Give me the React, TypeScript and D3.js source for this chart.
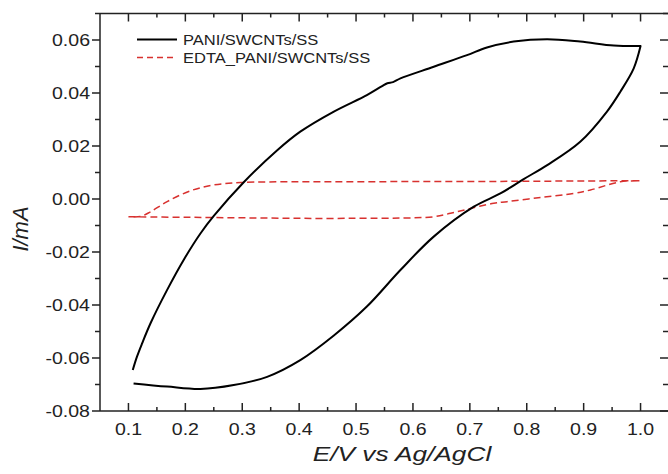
import React from "react";
import * as d3 from "d3";

// PANI/SWCNTs/SS cyclic voltammogram: forward (anodic) and return (cathodic) sweeps
const paniForwardE = [0.1076, 0.115, 0.124, 0.139, 0.168, 0.197, 0.2265, 0.25, 0.3026, 0.361, 0.402, 0.461, 0.519, 0.545, 0.555, 0.565, 0.578, 0.6365, 0.695, 0.73, 0.777, 0.836, 0.894, 0.953, 1.0];
const paniForwardI = [-0.0645, -0.0595, -0.0545, -0.0468, -0.0343, -0.023, -0.013, -0.0064, 0.0063, 0.0183, 0.0254, 0.033, 0.0392, 0.0425, 0.0437, 0.0441, 0.0455, 0.0499, 0.0543, 0.0572, 0.0594, 0.0603, 0.0594, 0.0579, 0.0577];
const paniReverseE = [1.0, 0.988, 0.9645, 0.941, 0.894, 0.836, 0.7946, 0.7537, 0.707, 0.6365, 0.578, 0.519, 0.461, 0.402, 0.3437, 0.285, 0.2265, 0.168, 0.109];
const paniReverseI = [0.0577, 0.0493, 0.0405, 0.033, 0.0216, 0.0128, 0.0075, 0.0021, -0.0029, -0.0142, -0.0268, -0.0406, -0.0515, -0.0608, -0.0671, -0.0702, -0.0717, -0.0708, -0.0696];

// EDTA_PANI/SWCNTs/SS cyclic voltammogram
const edtaLowerE = [0.1, 0.2, 0.3, 0.402, 0.5, 0.578, 0.6365, 0.666, 0.695, 0.742, 0.7655, 0.824, 0.8825, 0.912, 0.9645, 1.0];
const edtaLowerI = [-0.0067, -0.0069, -0.0071, -0.0073, -0.0073, -0.0072, -0.0067, -0.0054, -0.0039, -0.0016, -0.001, 0.0006, 0.0021, 0.0034, 0.0065, 0.0069];
const edtaUpperE = [1.0, 0.9, 0.8, 0.7, 0.6, 0.5, 0.4, 0.297, 0.25, 0.209, 0.168, 0.139, 0.121, 0.1];
const edtaUpperI = [0.0069, 0.0068, 0.0067, 0.0066, 0.0066, 0.0065, 0.0065, 0.0062, 0.0053, 0.0031, -0.001, -0.0048, -0.0066, -0.0067];

const xMajorTicks = [0.1, 0.2, 0.3, 0.4, 0.5, 0.6, 0.7, 0.8, 0.9, 1.0];
const xMinorTicks = [0.15, 0.25, 0.35, 0.45, 0.55, 0.65, 0.75, 0.85, 0.95];
const yMajorTicks = [-0.08, -0.06, -0.04, -0.02, 0.0, 0.02, 0.04, 0.06];
const yMinorTicks = [-0.07, -0.05, -0.03, -0.01, 0.01, 0.03, 0.05, 0.07];

const seriesNames = ["PANI/SWCNTs/SS", "EDTA_PANI/SWCNTs/SS"];
const xTitle = "E/V vs Ag/AgCl";
const yTitle = "I/mA";

const W = 668;
const H = 474;
const left = 100;
const right = 669;
const top = 13.5;
const bottom = 411;
const font = "'Liberation Sans', Arial, Helvetica, sans-serif";
const axisColor = "#222";
const red = "#d8312f";

const zip = (xs: number[], ys: number[]) => xs.map((x, i) => [x, ys[i]] as [number, number]);

export default function App() {
  const x = d3.scaleLinear().domain([0.05, 1.05]).range([left, right]);
  const y = d3.scaleLinear().domain([-0.08, 0.07]).range([bottom, top]);
  const line = d3
    .line<[number, number]>()
    .x((d) => x(d[0]))
    .y((d) => y(d[1]))
    .curve(d3.curveCatmullRom.alpha(0.5));

  const paniPath = line(zip(paniForwardE, paniForwardI))! + line(zip(paniReverseE, paniReverseI))!.replace(/^M/, "L");
  const edtaPath = line(zip(edtaLowerE, edtaLowerI))! + line(zip(edtaUpperE, edtaUpperI))!.replace(/^M/, "L");

  const stretched = (tx: number, ty: number, sx: number) => `translate(${tx},${ty}) scale(${sx},1)`;

  return (
    <svg width={W} height={H} style={{ position: "absolute", left: 0, top: 0, background: "#fff" }} fontFamily={font}>
      <rect x={0} y={0} width={W} height={H} fill="#fff" />

      {/* data */}
      <path d={edtaPath} fill="none" stroke={red} strokeWidth={1.5} strokeDasharray="7,4" />
      <path d={paniPath} fill="none" stroke="#000" strokeWidth={2} strokeLinejoin="round" />

      {/* frame (right edge sits just past the page border) */}
      <line x1={left} x2={right + 1} y1={top} y2={top} stroke={axisColor} strokeWidth={1.5} />
      <line x1={left} x2={right + 1} y1={bottom} y2={bottom} stroke={axisColor} strokeWidth={1.5} />
      <line x1={left} x2={left} y1={top} y2={bottom} stroke={axisColor} strokeWidth={1.5} />
      <line x1={right + 1} x2={right + 1} y1={top} y2={bottom} stroke={axisColor} strokeWidth={1.5} />

      {/* x ticks: bottom and top, pointing inward */}
      {xMajorTicks.map((t) => (
        <g key={"xM" + t}>
          <line x1={x(t)} x2={x(t)} y1={bottom} y2={bottom - 8} stroke={axisColor} strokeWidth={1.5} />
          <line x1={x(t)} x2={x(t)} y1={top} y2={top + 8} stroke={axisColor} strokeWidth={1.5} />
          <text
            transform={stretched(x(t), 435, 1.15)}
            textAnchor="middle"
            fontSize={17}
            fill={axisColor}
          >
            {d3.format(".1f")(t)}
          </text>
        </g>
      ))}
      {xMinorTicks.map((t) => (
        <g key={"xm" + t}>
          <line x1={x(t)} x2={x(t)} y1={bottom} y2={bottom - 4} stroke={axisColor} strokeWidth={1.5} />
          <line x1={x(t)} x2={x(t)} y1={top} y2={top + 4} stroke={axisColor} strokeWidth={1.5} />
        </g>
      ))}

      {/* y ticks: left outward, right inward */}
      {yMajorTicks.map((t) => (
        <g key={"yM" + t}>
          <line x1={left - 8} x2={left} y1={y(t)} y2={y(t)} stroke={axisColor} strokeWidth={1.5} />
          <line x1={right - 9} x2={right} y1={y(t)} y2={y(t)} stroke={axisColor} strokeWidth={1.5} />
          <text
            transform={stretched(90, y(t) + 6, 1.15)}
            textAnchor="end"
            fontSize={17}
            fill={axisColor}
          >
            {d3.format(".2f")(t).replace("-0.00", "0.00").replace("−", "-")}
          </text>
        </g>
      ))}
      {yMinorTicks.map((t) => (
        <g key={"ym" + t}>
          <line x1={left - 5} x2={left} y1={y(t)} y2={y(t)} stroke={axisColor} strokeWidth={1.5} />
          <line x1={right - 6} x2={right} y1={y(t)} y2={y(t)} stroke={axisColor} strokeWidth={1.5} />
        </g>
      ))}

      {/* axis titles */}
      <text
        transform={stretched(402, 461, 1.25)}
        textAnchor="middle"
        fontSize={21}
        fontStyle="italic"
        fill={axisColor}
      >
        {xTitle}
      </text>
      <text
        transform={`translate(28,229) rotate(-90)`}
        textAnchor="middle"
        fontSize={22}
        fontStyle="italic"
        fill={axisColor}
      >
        {yTitle}
      </text>

      {/* legend */}
      <line x1={137} x2={177} y1={39.5} y2={39.5} stroke="#000" strokeWidth={2} />
      <text transform={stretched(183, 45, 1.1)} fontSize={15} fill={axisColor}>
        {seriesNames[0]}
      </text>
      <line x1={137} x2={177} y1={57.5} y2={57.5} stroke={red} strokeWidth={1.5} strokeDasharray="6,4" />
      <text transform={stretched(183, 63, 1.1)} fontSize={15} fill={axisColor}>
        {seriesNames[1]}
      </text>
    </svg>
  );
}
